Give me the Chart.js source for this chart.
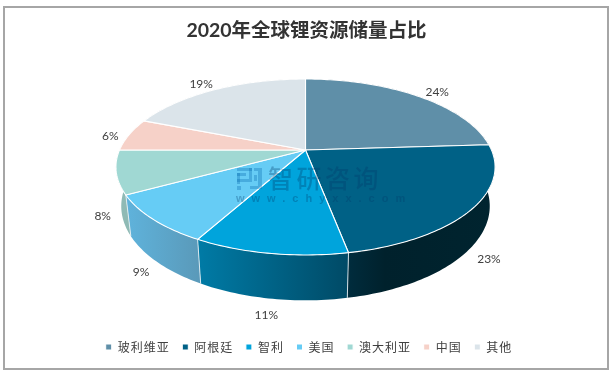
<!DOCTYPE html>
<html><head><meta charset="utf-8">
<style>html,body{margin:0;padding:0;background:#fff}canvas{display:block}</style>
<script src="https://cdn.jsdelivr.net/npm/chart.js@4/dist/chart.umd.min.js"></script>
</head><body><canvas id="c" width="613" height="372"></canvas>
<script>
const titleText = '2020年全球锂资源储量占比';
const categories = ['玻利维亚','阿根廷','智利','美国','澳大利亚','中国','其他'];
const shares = [24,23,11,9,8,6,19];
const faceColors = ['#5f8fa8','#006186','#00a4dc','#66ccf5','#a0d8d3','#f6d1c8','#dbe4ea'];
const wallFrom = ['#3f6070','#002c3d','#007ba6','#5fb3dc','#8fbab5','#c0a098','#a8b0b5'];
const wallTo   = ['#00222e','#00242f','#004a66','#5a9aba','#8fbab5','#c0a098','#a8b0b5'];

// perspective view of the disc
const view = {cx:305.5, cy:150, R:186, a:84.7, k:-0.193, sx:0.972, sy:1.07, dy:38};
const rim = t => {
  const u=Math.sin(t), v=-Math.cos(t), d=1+view.k*v;
  return {u,v,x:view.R*u/d, y:view.a*v/d};
};
const topPt = t => { const p=rim(t); return [view.cx+p.x, view.cy+p.y]; };
const botPt = t => { const p=rim(t); return [view.cx+p.x*view.sx, view.cy+p.y*view.sy+view.dy]; };
const samples = (s,e) => { const n=Math.max(2,Math.ceil((e-s)/0.02)), o=[]; for(let i=0;i<=n;i++) o.push(s+(e-s)*i/n); return o; };

const pie3d = {
  id:'pie3d',
  afterInit(chart){
    const lg=chart.legend, ctx=chart.ctx;
    ['fit','draw'].forEach(m=>{
      const f=lg[m].bind(lg);
      lg[m]=function(){ const o=ctx.letterSpacing; ctx.letterSpacing='1px'; const r=f(); ctx.letterSpacing=o; return r; };
    });
    const tb=chart.titleBlock, td=tb.draw.bind(tb);
    tb.draw=function(){ ctx.save(); ctx.translate(-2.5,0); td(); ctx.restore(); };
  },
  beforeDraw(chart){
    const c=chart.ctx;
    c.save();
    c.fillStyle='#fff'; c.fillRect(0,0,chart.width,chart.height);
    c.strokeStyle='#a6a6a6'; c.lineWidth=2; c.strokeRect(4,7,604,362);
    c.restore();
  },
  beforeDatasetsDraw(chart){
    const c=chart.ctx, arcs=chart.getDatasetMeta(0).data;
    const ang=arcs.map(a=>[a.startAngle+Math.PI/2,a.endAngle+Math.PI/2]);
    c.save();
    // side walls
    ang.forEach(([s,e],i)=>{
      const ts=samples(s,e);
      const xs=ts.map(t=>topPt(t)[0]);
      const g=c.createLinearGradient(Math.min(...xs),0,Math.max(...xs),0);
      g.addColorStop(0,wallFrom[i]); g.addColorStop(1,wallTo[i]);
      if(i===1){ g.addColorStop(.25,'#00212c'); }
      c.beginPath();
      ts.forEach((t,j)=>{const p=topPt(t); j?c.lineTo(p[0],p[1]):c.moveTo(p[0],p[1]);});
      ts.slice().reverse().forEach(t=>{const p=botPt(t); c.lineTo(p[0],p[1]);});
      c.closePath(); c.fillStyle=g; c.fill();
    });
    // wall seams
    c.strokeStyle='rgba(235,242,246,.85)'; c.lineWidth=1;
    ang.forEach(([s])=>{
      const a=topPt(s), b=botPt(s);
      c.beginPath(); c.moveTo(a[0],a[1]); c.lineTo(b[0],b[1]); c.stroke();
    });
    // top face
    ang.forEach(([s,e],i)=>{
      c.beginPath(); c.moveTo(view.cx,view.cy);
      samples(s,e).forEach(t=>{const p=topPt(t); c.lineTo(p[0],p[1]);});
      c.closePath();
      c.fillStyle=faceColors[i]; c.fill();
      c.strokeStyle='#fff'; c.lineWidth=1.1; c.lineJoin='round'; c.stroke();
    });
    c.restore();
    return false;
  },
  afterDraw(chart){
    const c=chart.ctx, arcs=chart.getDatasetMeta(0).data;
    c.save();
    // percentage labels
    c.font='12px Lato,"Liberation Sans",sans-serif'; c.fillStyle='#404040';
    c.textAlign='center'; c.textBaseline='middle';
    arcs.forEach((a,i)=>{
      const t=(a.startAngle+a.endAngle)/2+Math.PI/2, r=rim(t);
      const base=r.v>0?botPt(t):topPt(t);
      const dx=r.u, dy=r.v*0.35, n=Math.hypot(dx,dy);
      const len=21-6*Math.pow(Math.abs(r.v),4);
      c.fillText(shares[i]+'%', base[0]+len*dx/n+2, base[1]+len*dy/n+3);
    });
    // watermark
    c.textAlign='left'; c.textBaseline='alphabetic';
    c.fillStyle='rgba(0,60,105,.32)';
    c.font='500 25px "Noto Sans CJK SC"'; c.letterSpacing='3.5px';
    c.fillText('智研咨询',268,188);
    c.font='bold 11px "Liberation Sans"'; c.letterSpacing='7px';
    c.fillText('www.chyxx.com',236,202);
    c.letterSpacing='0px';
    c.fillStyle='rgba(0,100,170,.3)';
    [[237,168,15,3],[249,168,3,14],[237,173,9,3],[237,173,3,11],[237,179,12,3],[237,186,4,4],[254,168,8,3],[258,171,4,15],[250,186,12,3],[254,175,3,6]].forEach(b=>c.fillRect(b[0],b[1],b[2],b[3]));
    c.restore();
  }
};

new Chart(document.getElementById('c'),{
  type:'pie',
  data:{labels:categories,datasets:[{data:shares,backgroundColor:faceColors,borderColor:'#fff',borderWidth:1}]},
  plugins:[pie3d],
  options:{
    responsive:false, animation:false, devicePixelRatio:1,
    layout:{padding:{top:6,bottom:9,left:5,right:0}},
    plugins:{
      tooltip:{enabled:false},
      title:{display:true,text:titleText,color:'#333333',
        font:{family:'Lato,"Noto Sans CJK SC"',size:19.5,weight:'bold'},padding:{top:13,bottom:6}},
      legend:{position:'bottom',
        labels:{boxWidth:6,boxHeight:6,padding:12.6,color:'#404040',
          font:{family:'"Noto Sans CJK SC"',size:12}}}
    }
  }
});
</script></body></html>
